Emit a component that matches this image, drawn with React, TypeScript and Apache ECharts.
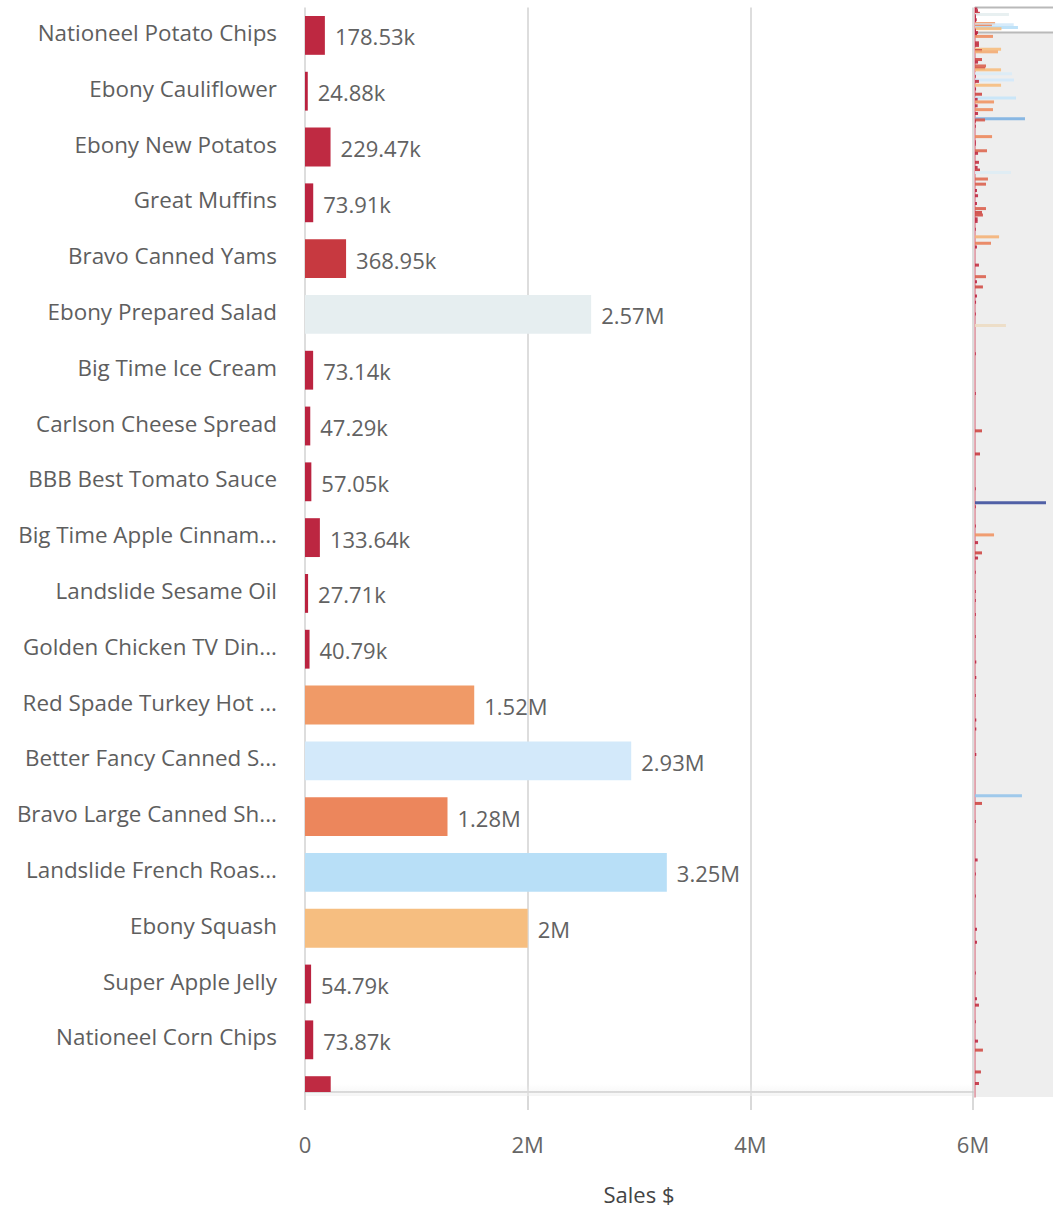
import React, { useEffect, useRef } from 'react';
import * as echarts from 'echarts';

// ---------- data ----------
const CATEGORIES = [
  'Nationeel Potato Chips',
  'Ebony Cauliflower',
  'Ebony New Potatos',
  'Great Muffins',
  'Bravo Canned Yams',
  'Ebony Prepared Salad',
  'Big Time Ice Cream',
  'Carlson Cheese Spread',
  'BBB Best Tomato Sauce',
  'Big Time Apple Cinnam...',
  'Landslide Sesame Oil',
  'Golden Chicken TV Din...',
  'Red Spade Turkey Hot ...',
  'Better Fancy Canned S...',
  'Bravo Large Canned Sh...',
  'Landslide French Roas...',
  'Ebony Squash',
  'Super Apple Jelly',
  'Nationeel Corn Chips',
  '',
];

const SALES = [
  178530, 24880, 229470, 73910, 368950, 2570000, 73140, 47290, 57050, 133640,
  27710, 40790, 1520000, 2930000, 1280000, 3250000, 2000000, 54790, 73870, 231000,
];

// rows further down the list, only visible in the overview strip on the right
const EXTRA_ROWS = [
  20, 21, 22, 27, 29, 32, 33, 34, 40, 42, 45, 47, 48, 51, 53, 56, 57, 60, 63, 67,
  70, 71, 73, 76, 79, 82, 86, 87, 88, 92, 100, 104, 106, 111, 113, 120, 124, 126, 128, 133,
  137, 142, 146, 152, 156, 159, 161, 164, 166, 172, 178, 183, 186, 200, 209, 213, 217, 224, 229, 238,
  247, 269, 300, 329, 347, 374, 385, 388, 403, 410, 416, 424, 428, 439, 454, 461, 472, 489, 509, 521,
  535, 554, 561, 581, 613, 619, 633, 663, 674, 691, 717, 727, 751, 771, 776, 789, 804, 811, 828, 837,
];
const EXTRA_SALES = [
  150000, 150000, 1360000, 300000, 300000, 1970000, 530000, 1740000, 530000, 230000, 830000, 760000, 1970000, 2800000, 60000, 2950000, 300000, 1970000, 80000, 530000,
  3100000, 200000, 1440000, 200000, 1360000, 230000, 3780000, 760000, 50000, 50000, 1290000, 50000, 50000, 910000, 230000, 300000, 200000, 380000, 2720000, 980000,
  830000, 150000, 230000, 150000, 830000, 530000, 600000, 200000, 200000, 60000, 1820000, 1210000, 150000, 300000, 830000, 150000, 600000, 150000, 80000, 60000,
  2340000, 60000, 60000, 530000, 380000, 60000, 5370000, 60000, 60000, 1440000, 230000, 530000, 230000, 60000, 60000, 60000, 60000, 60000, 100000, 100000,
  60000, 100000, 100000, 100000, 3550000, 530000, 60000, 200000, 60000, 50000, 150000, 150000, 60000, 150000, 300000, 60000, 230000, 600000, 450000, 300000,
];

const TOTAL_ROWS = 848;
const VIEW_MIN = -0.5;
const VIEW_MAX = 18.935;
const X_TICK_LABELS = ['0', '2M', '4M', '6M'];
const X_MAX = 6000000;
const X_STEP = 2000000;
const MINI_X_MAX = 5900000;

// ---------- styling ----------
const FONT = "'Open Sans', sans-serif";
const COLOR_STOPS: [number, string][] = [
  [0, '#b9213f'],
  [230000, '#bf2a42'],
  [400000, '#c93c40'],
  [1280000, '#ec865c'],
  [1520000, '#f09a67'],
  [2000000, '#f6be80'],
  [2570000, '#e6eef0'],
  [2930000, '#d3e9fa'],
  [3250000, '#b8dff7'],
  [3800000, '#7aaee0'],
  [5400000, '#3d4e9c'],
];

function hexToRgb(h: string) {
  const n = parseInt(h.slice(1), 16);
  return [(n >> 16) & 255, (n >> 8) & 255, n & 255];
}
function colorFor(v: number): string {
  if (v <= COLOR_STOPS[0][0]) return COLOR_STOPS[0][1];
  for (let i = 1; i < COLOR_STOPS.length; i++) {
    const [v1, c1] = COLOR_STOPS[i];
    if (v <= v1) {
      const [v0, c0] = COLOR_STOPS[i - 1];
      const t = (v - v0) / (v1 - v0);
      const a = hexToRgb(c0);
      const b = hexToRgb(c1);
      const r = a.map((x, k) => Math.round(x + (b[k] - x) * t));
      return `rgb(${r[0]},${r[1]},${r[2]})`;
    }
  }
  return COLOR_STOPS[COLOR_STOPS.length - 1][1];
}

function fmt(v: number): string {
  if (v >= 1e6) return parseFloat((v / 1e6).toFixed(2)) + 'M';
  return (v / 1e3).toFixed(2) + 'k';
}

export default function App() {
  const ref = useRef<HTMLDivElement>(null);

  useEffect(() => {
    if (!ref.current) return;
    const chart = echarts.init(ref.current, undefined, { renderer: 'svg' });

    const mainData = SALES.map((v, i) => [v, i]);
    const miniData = [
      ...SALES.map((v, i) => [v, i]),
      ...EXTRA_SALES.map((v, i) => [v, EXTRA_ROWS[i]]),
    ];

    const renderMain = (params: any, api: any) => {
      const v = api.value(0);
      const row = api.value(1);
      const cs = params.coordSys;
      const p0 = api.coord([0, row]);
      const p1 = api.coord([v, row]);
      const band = api.size([0, 1])[1];
      const h = band * 0.696;
      const rect = echarts.graphic.clipRectByRect(
        { x: p0[0], y: p0[1] - h / 2, width: p1[0] - p0[0], height: h },
        { x: cs.x, y: cs.y, width: cs.width, height: cs.height }
      );
      const children: any[] = [];
      if (rect) {
        children.push({ type: 'rect', shape: rect, style: { fill: colorFor(v) } });
      }
      if (p0[1] <= cs.y + cs.height) {
        children.push({
          type: 'text',
          x: p1[0] + 10,
          y: p0[1] + 1,
          style: {
            text: fmt(v), fill: '#626262', fontSize: 22, fontFamily: FONT,
            align: 'left', verticalAlign: 'middle', textAlign: 'left', textVerticalAlign: 'middle',
          },
        });
        children.push({
          type: 'text',
          x: cs.x - 28,
          y: p0[1] - 3,
          style: {
            text: CATEGORIES[params.dataIndex], fill: '#5e5e5e', fontSize: 22.4, fontFamily: FONT,
            align: 'right', verticalAlign: 'middle', textAlign: 'right', textVerticalAlign: 'middle',
          },
        });
      }
      return { type: 'group', children };
    };

    const renderMini = (params: any, api: any) => {
      const v = api.value(0);
      const row = api.value(1);
      const cs = params.coordSys;
      const p0 = api.coord([0, row]);
      const p1 = api.coord([v, row]);
      const h = 3;
      const rect = echarts.graphic.clipRectByRect(
        { x: p0[0], y: p0[1] - h / 2, width: Math.max(p1[0] - p0[0], 0.8), height: h },
        { x: cs.x, y: cs.y, width: cs.width, height: cs.height }
      );
      if (!rect) return null;
      return { type: 'rect', shape: rect, style: { fill: colorFor(v), opacity: 0.9 } };
    };

    const renderWindow = (params: any, api: any) => {
      const cs = params.coordSys;
      const y0 = api.coord([0, api.value(1)])[1];
      const y1 = api.coord([0, api.value(2)])[1];
      return {
        type: 'group',
        children: [
          { type: 'rect', shape: { x: cs.x, y: y0, width: cs.width, height: y1 - y0 }, style: { fill: '#ffffff' } },
          { type: 'line', shape: { x1: cs.x, y1: y0, x2: cs.x + cs.width, y2: y0 }, style: { stroke: '#b9b9b9', lineWidth: 2 } },
          { type: 'line', shape: { x1: cs.x, y1: y1, x2: cs.x + cs.width, y2: y1 }, style: { stroke: '#b9b9b9', lineWidth: 2 } },
        ],
      };
    };

    chart.setOption({
      animation: false,
      backgroundColor: '#ffffff',
      grid: [
        { left: 305, top: 7.5, width: 668, height: 1089.5 },
        { left: 975, top: 7.5, width: 78, height: 1089.5, show: true, backgroundColor: '#eeeeee', borderWidth: 0 },
      ],
      xAxis: [
        {
          gridIndex: 0,
          type: 'value',
          min: 0,
          max: X_MAX,
          interval: X_STEP,
          name: 'Sales $',
          nameLocation: 'middle',
          nameGap: 91,
          nameTextStyle: { fontSize: 22, color: '#444444', fontFamily: FONT },
          axisLine: { show: true, onZero: false, lineStyle: { color: '#cccccc', width: 2 } },
          axisTick: { show: true, length: 18, lineStyle: { color: '#cccccc', width: 1.5 } },
          axisLabel: {
            fontSize: 22,
            color: '#666666',
            fontFamily: FONT,
            margin: 41,
            formatter: (v: number) => X_TICK_LABELS[Math.round(v / X_STEP)] ?? '',
          },
          splitLine: { show: true, lineStyle: { color: '#d2d2d2', width: 1.5 } },
        },
        { gridIndex: 1, type: 'value', min: 0, max: MINI_X_MAX, show: false },
      ],
      yAxis: [
        { gridIndex: 0, type: 'value', inverse: true, min: VIEW_MIN, max: VIEW_MAX, show: false },
        {
          gridIndex: 1,
          type: 'value',
          inverse: true,
          min: -0.5,
          max: TOTAL_ROWS - 0.5,
          axisLine: { show: true, onZero: false, lineStyle: { color: 'rgba(200,70,90,0.6)', width: 1.5 } },
          axisTick: { show: false },
          axisLabel: { show: false },
          splitLine: { show: false },
        },
      ],
      series: [
        {
          type: 'custom',
          name: 'Sales $',
          xAxisIndex: 0,
          yAxisIndex: 0,
          renderItem: renderMain,
          data: mainData,
          z: 3,
        },
        {
          type: 'custom',
          name: 'window',
          xAxisIndex: 1,
          yAxisIndex: 1,
          renderItem: renderWindow,
          encode: { x: 0, y: [1, 2] },
          data: [[0, VIEW_MIN, VIEW_MAX]],
          z: 1,
          silent: true,
        },
        {
          type: 'custom',
          name: 'overview',
          xAxisIndex: 1,
          yAxisIndex: 1,
          renderItem: renderMini,
          data: miniData,
          z: 2,
          silent: true,
        },
      ],
      graphic: [
        {
          type: 'rect',
          z: 1,
          silent: true,
          shape: { x: 306, y: 1084, width: 666, height: 12 },
          style: {
            fill: new echarts.graphic.LinearGradient(0, 0, 0, 1, [
              { offset: 0, color: 'rgba(238,238,238,0)' },
              { offset: 1, color: 'rgba(238,238,238,0.6)' },
            ]),
          },
        },
      ],
    });

    return () => chart.dispose();
  }, []);

  return (
    <div
      ref={ref}
      style={{ position: 'absolute', left: 0, top: 0, width: 1053, height: 1210 }}
    />
  );
}
